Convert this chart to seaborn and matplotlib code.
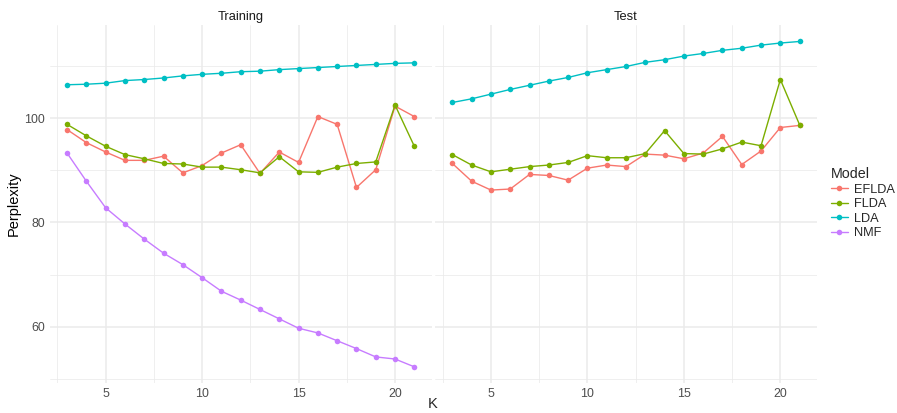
import numpy as np
import pandas as pd
import matplotlib
matplotlib.use("Agg")
import matplotlib.pyplot as plt
import seaborn as sns
from matplotlib.lines import Line2D

K = list(range(3, 22))

train_eflda = [97.8, 95.3, 93.5, 91.9, 91.9, 92.7, 89.5, 90.9, 93.3, 94.9, 89.4, 93.5, 91.5, 100.3, 98.8, 86.7, 90.1, 102.3, 100.3]
train_flda = [98.8, 96.6, 94.6, 93.0, 92.2, 91.3, 91.2, 90.6, 90.6, 90.1, 89.5, 92.6, 89.7, 89.6, 90.6, 91.3, 91.6, 102.5, 94.6]
train_lda = [106.4, 106.5, 106.7, 107.2, 107.4, 107.7, 108.1, 108.4, 108.6, 108.9, 109.0, 109.3, 109.5, 109.7, 109.9, 110.1, 110.3, 110.5, 110.6]
train_nmf = [93.3, 87.9, 82.8, 79.7, 76.8, 74.1, 71.9, 69.4, 66.8, 65.1, 63.3, 61.5, 59.7, 58.8, 57.3, 55.8, 54.2, 53.8, 52.3]

test_eflda = [91.3, 87.9, 86.2, 86.4, 89.2, 89.0, 88.1, 90.4, 91.0, 90.7, 93.1, 92.9, 92.2, 93.3, 96.5, 91.1, 93.7, 98.2, 98.6]
test_flda = [93.0, 91.0, 89.7, 90.2, 90.7, 91.0, 91.5, 92.8, 92.4, 92.4, 93.2, 97.6, 93.2, 93.1, 94.1, 95.4, 94.7, 107.4, 98.7]
test_lda = [103.0, 103.7, 104.6, 105.5, 106.3, 107.1, 107.8, 108.7, 109.3, 109.9, 110.7, 111.2, 111.9, 112.4, 113.0, 113.4, 114.0, 114.4, 114.7]

models = ["EFLDA", "FLDA", "LDA", "NMF"]
colors = ["#F8766D", "#7CAE00", "#00BFC4", "#C77CFF"]
panels = ["Training", "Test"]
x_ticks = [5, 10, 15, 20]
y_ticks = [60, 80, 100]

rows = []
for panel, series in [("Training", {"EFLDA": train_eflda, "FLDA": train_flda, "LDA": train_lda, "NMF": train_nmf}),
                      ("Test", {"EFLDA": test_eflda, "FLDA": test_flda, "LDA": test_lda})]:
    for m, vals in series.items():
        for k, v in zip(K, vals):
            rows.append({"Set": panel, "Model": m, "K": k, "Perplexity": v})
df = pd.DataFrame(rows)

sns.set_style("white")
plt.rcParams["font.family"] = ["Liberation Sans", "DejaVu Sans"]

palette = dict(zip(models, colors))

fig = plt.figure(figsize=(8.97, 4.13), dpi=100)
W, H = 897, 413
top_px, bot_px = 25.2, 383.1
axes = [fig.add_axes([49.7 / W, (H - bot_px) / H, 382 / W, (bot_px - top_px) / H]),
        fig.add_axes([435.0 / W, (H - bot_px) / H, 382 / W, (bot_px - top_px) / H])]

xmin, xmax = min(K), max(K)
xr = xmax - xmin
ymin, ymax = df["Perplexity"].min(), df["Perplexity"].max()
yr = ymax - ymin

for ax, panel in zip(axes, panels):
    sub = df[df["Set"] == panel]
    sns.lineplot(data=sub, x="K", y="Perplexity", hue="Model", hue_order=[m for m in models if m in sub["Model"].unique()],
                 palette=palette, marker="o", markersize=4.0, markeredgewidth=0, linewidth=1.0,
                 ax=ax, legend=False, zorder=3)
    ax.set_xlim(xmin - 0.05 * xr, xmax + 0.05 * xr)
    ax.set_ylim(ymin - 0.05 * yr, ymax + 0.05 * yr)
    ax.set_xticks(x_ticks)
    ax.set_xticks([2.5, 7.5, 12.5, 17.5], minor=True)
    ax.set_yticks(y_ticks)
    ax.set_yticks([50, 70, 90, 110], minor=True)
    ax.grid(True, which="major", color="#EBEBEB", linewidth=1.1, zorder=0)
    ax.grid(True, which="minor", color="#EBEBEB", linewidth=0.55, zorder=0)
    ax.set_axisbelow(True)
    for s in ax.spines.values():
        s.set_visible(False)
    ax.tick_params(which="both", length=0, labelsize=8.9, labelcolor="#4D4D4D", pad=3.5)
    ax.set_xlabel("")
    ax.set_ylabel("")
    ax.set_title(panel, fontsize=9.3, color="#1A1A1A", pad=4)

axes[1].tick_params(labelleft=False)
axes[0].set_ylabel("Perplexity", fontsize=10.5, color="black", labelpad=2.5)
fig.text(433 / W, 1 - 404 / H, "K", fontsize=10.5, ha="center", va="center")

handles = [Line2D([0], [0], color=c, marker="o", markersize=4.0, markeredgewidth=0, linewidth=1.0) for c in colors]
leg = fig.legend(handles, models, loc="upper left", bbox_to_anchor=(826 / W, 1 - 162 / H),
                 frameon=False, title="Model", fontsize=9.2, title_fontsize=10.3,
                 handlelength=1.3, handletextpad=0.5, labelspacing=0.2, borderaxespad=0)
leg._legend_box.align = "left"

fig.savefig("out.png", dpi=100)
